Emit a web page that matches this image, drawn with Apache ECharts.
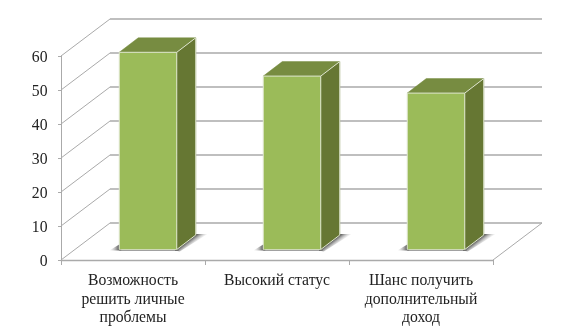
<!DOCTYPE html>
<html><head><meta charset="utf-8">
<script src="https://cdn.jsdelivr.net/npm/echarts@6/dist/echarts.min.js"></script>
<style>html,body{margin:0;padding:0;background:#fff}#c{width:577px;height:336px}</style>
</head><body><div id="c"></div>
<script>
const categories = ['Возможность\nрешить личные\nпроблемы', 'Высокий статус', 'Шанс получить\nдополнительный\nдоход'];
const values = [58, 51, 46];
const ticks = [0, 10, 20, 30, 40, 50, 60];

const wallDx = 49, wallDy = -37;          // depth of the 3D wall
const barDx = 15, barDy = -10.5;          // front of bar relative to the front plane
const sideDx = 19, sideDy = -14.5;        // bar depth
const barW = 57.5;

const gridColor = '#aaaaaa';
const chart = echarts.init(document.getElementById('c'), null, {renderer: 'canvas'});

function renderGrid(params, api) {
  const v = api.value(0);
  const a = api.coord([0, v]);
  const xEnd = params.coordSys.x + params.coordSys.width;
  const bx = params.coordSys.x + wallDx, by = a[1] + wallDy;
  const children = [
    {type: 'line', shape: {x1: params.coordSys.x, y1: a[1], x2: bx, y2: by}, style: {stroke: gridColor, lineWidth: 1}},
    {type: 'line', shape: {x1: bx, y1: by, x2: xEnd + wallDx, y2: by}, style: {stroke: gridColor, lineWidth: 1.4}},
    {type: 'text', style: {text: String(v), x: params.coordSys.x - 13.5, y: a[1] + 1.5, align: 'right', verticalAlign: 'middle',
      fontFamily: 'Liberation Serif', fontSize: 15.7, fill: '#222222'}}
  ];
  if (v === 0) {
    children.push({type: 'line', shape: {x1: xEnd, y1: a[1], x2: xEnd + wallDx, y2: by}, style: {stroke: gridColor, lineWidth: 1}});
  }
  return {type: 'group', silent: true, children};
}

function fade(x, y, x2, y2) {
  return {type: 'linear', x, y, x2, y2, global: true, colorStops: [
    {offset: 0, color: 'rgba(85,85,85,1)'},
    {offset: 1, color: 'rgba(190,190,190,0)'}
  ]};
}

function renderBar(params, api) {
  const cx = api.coord([api.value(0), 0])[0] + barDx;
  const y0 = api.coord([0, 0])[1] + barDy;
  const yt = api.coord([0, api.value(1)])[1] + barDy;
  const l = cx - barW / 2, r = cx + barW / 2;
  const edge = '#dfe6cf';
  return {type: 'group', silent: true, children: [
    {type: 'polygon', shape: {points: [[l - 10, y0 + 1], [l, y0 - 5], [l + 2, y0 - 5], [l + 2, y0 + 1]]},
      style: {fill: fade(l, 0, l - 10, 0)}},
    {type: 'polygon', shape: {points: [[l, y0], [r + 2, y0], [r + 2, y0 + 1.5], [l, y0 + 1.5]]},
      style: {fill: 'rgba(130,130,130,0.75)'}},
    {type: 'polygon', shape: {points: [[r - 2, y0 + 1], [r + sideDx - 2, y0 + sideDy - 1], [r + sideDx + 12, y0 + sideDy - 1], [r + 3, y0 + 2]]},
      style: {fill: fade(r + sideDx / 2, y0 + sideDy / 2, r + sideDx / 2 + 4.2, y0 + sideDy / 2 + 5.5)}},
    {type: 'polygon', shape: {points: [[l, yt], [l + sideDx, yt + sideDy], [r + sideDx, yt + sideDy], [r, yt]]},
      style: {fill: '#778c41', stroke: '#778c41', lineWidth: 0.5}},
    {type: 'polygon', shape: {points: [[r, yt], [r + sideDx, yt + sideDy], [r + sideDx, y0 + sideDy], [r, y0]]},
      style: {fill: '#667733', stroke: '#667733', lineWidth: 0.5}},
    {type: 'rect', shape: {x: l, y: yt, width: barW, height: y0 - yt}, style: {fill: '#9bbb59'}},
    {type: 'polyline', shape: {points: [[l, y0], [l, yt], [r, yt], [r, y0], [r + sideDx, y0 + sideDy], [r + sideDx, yt + sideDy], [r, yt]]}, style: {fill: 'none', stroke: edge, lineWidth: 1}},
    {type: 'line', shape: {x1: l, y1: y0, x2: r, y2: y0}, style: {stroke: edge, lineWidth: 0.6}}
  ]};
}

chart.setOption({
  animation: false,
  backgroundColor: '#ffffff',
  grid: {left: 61, right: 84, top: 56, bottom: 76, containLabel: false},
  xAxis: {
    type: 'category', data: categories,
    axisLine: {lineStyle: {color: gridColor, width: 1.4}},
    axisTick: {show: true, length: 5, lineStyle: {color: gridColor}},
    axisLabel: {fontFamily: 'Liberation Serif', fontSize: 15.7, color: '#222222', lineHeight: 18.4, margin: 12, interval: 0},
    splitLine: {show: false}
  },
  yAxis: {
    type: 'value', min: 0, max: 60, interval: 10,
    axisLine: {show: true, lineStyle: {color: gridColor, width: 1}},
    axisTick: {show: true, length: 3, lineStyle: {color: gridColor}},
    axisLabel: {show: false},
    splitLine: {show: false}
  },
  series: [
    {type: 'custom', renderItem: renderGrid, data: ticks.map(t => [t]), encode: {y: 0}, z: 1, clip: false, silent: true},
    {type: 'custom', renderItem: renderBar, data: values.map((v, i) => [i, v]), encode: {x: 0, y: 1}, z: 3, clip: false, silent: true}
  ]
});
</script></body></html>
